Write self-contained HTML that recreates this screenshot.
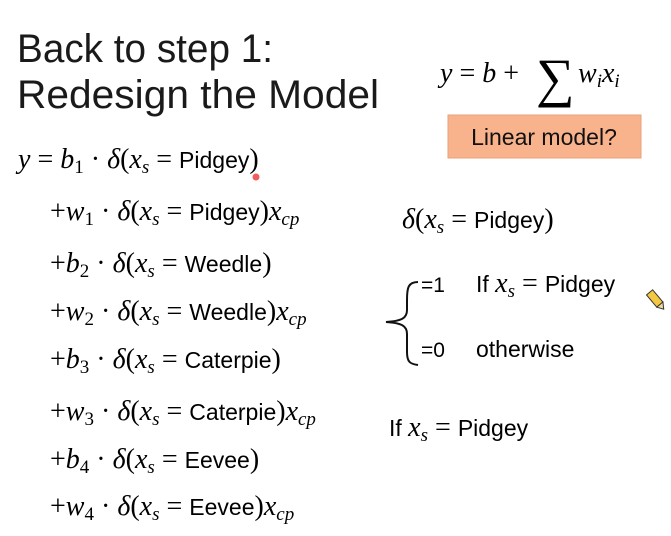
<!DOCTYPE html>
<html><head><meta charset="utf-8"><style>
html,body{margin:0;padding:0;background:#fff;}
svg{display:block}
.t{font-family:"Liberation Sans",sans-serif;font-size:40px;fill:#1a1a1a}
.m{font-family:"Liberation Serif",serif;font-style:italic;font-size:28px;fill:#000}
.r{font-family:"Liberation Serif",serif;font-style:normal}
.s{font-family:"Liberation Sans",sans-serif;font-style:normal;font-size:23px}
.sub{font-size:19px}
</style></head><body>
<svg width="671" height="536" viewBox="0 0 671 536" xmlns="http://www.w3.org/2000/svg">
<rect width="671" height="536" fill="#fff"/>
<text class="t" x="17" y="62" textLength="256" lengthAdjust="spacingAndGlyphs">Back to step 1:</text>
<text class="t" x="17" y="108" textLength="362" lengthAdjust="spacingAndGlyphs">Redesign the Model</text>

<text class="m" x="440" y="82">y <tspan class="r">= </tspan>b <tspan class="r">+</tspan></text>
<text x="536" y="96" style="font-family:'Liberation Serif',serif;font-size:54px">∑</text>
<text class="m" x="578" y="82">w<tspan class="sub" dy="5">i</tspan><tspan dy="-5">x</tspan><tspan class="sub" dy="5">i</tspan></text>

<rect x="448" y="115" width="193" height="43" fill="#f8b28c" stroke="#eaa27a" stroke-width="1"/>
<text x="544" y="145" text-anchor="middle" style="font-family:'Liberation Sans',sans-serif;font-size:23px;fill:#111">Linear model?</text>

<text class="m" x="18" y="168">y <tspan class="r">= </tspan>b<tspan class="sub r" dy="5">1</tspan><tspan class="r" dy="-5"> · </tspan>δ<tspan class="r">(</tspan>x<tspan class="sub" dy="5">s</tspan><tspan class="r" dy="-5"> = </tspan><tspan class="s">Pidgey</tspan><tspan class="r">)</tspan></text>
<circle cx="256" cy="177" r="3.5" fill="#e33" opacity="0.8"/>

<text class="m" x="50" y="220"><tspan class="r">+</tspan>w<tspan class="sub r" dy="5">1</tspan><tspan class="r" dy="-5"> · </tspan>δ<tspan class="r">(</tspan>x<tspan class="sub" dy="5">s</tspan><tspan class="r" dy="-5"> = </tspan><tspan class="s">Pidgey</tspan><tspan class="r">)</tspan>x<tspan class="sub" dy="5">cp</tspan></text>
<text class="m" x="50" y="272"><tspan class="r">+</tspan>b<tspan class="sub r" dy="5">2</tspan><tspan class="r" dy="-5"> · </tspan>δ<tspan class="r">(</tspan>x<tspan class="sub" dy="5">s</tspan><tspan class="r" dy="-5"> = </tspan><tspan class="s">Weedle</tspan><tspan class="r">)</tspan></text>
<text class="m" x="50" y="320"><tspan class="r">+</tspan>w<tspan class="sub r" dy="5">2</tspan><tspan class="r" dy="-5"> · </tspan>δ<tspan class="r">(</tspan>x<tspan class="sub" dy="5">s</tspan><tspan class="r" dy="-5"> = </tspan><tspan class="s">Weedle</tspan><tspan class="r">)</tspan>x<tspan class="sub" dy="5">cp</tspan></text>
<text class="m" x="50" y="368"><tspan class="r">+</tspan>b<tspan class="sub r" dy="5">3</tspan><tspan class="r" dy="-5"> · </tspan>δ<tspan class="r">(</tspan>x<tspan class="sub" dy="5">s</tspan><tspan class="r" dy="-5"> = </tspan><tspan class="s">Caterpie</tspan><tspan class="r">)</tspan></text>
<text class="m" x="50" y="420"><tspan class="r">+</tspan>w<tspan class="sub r" dy="5">3</tspan><tspan class="r" dy="-5"> · </tspan>δ<tspan class="r">(</tspan>x<tspan class="sub" dy="5">s</tspan><tspan class="r" dy="-5"> = </tspan><tspan class="s">Caterpie</tspan><tspan class="r">)</tspan>x<tspan class="sub" dy="5">cp</tspan></text>
<text class="m" x="50" y="468"><tspan class="r">+</tspan>b<tspan class="sub r" dy="5">4</tspan><tspan class="r" dy="-5"> · </tspan>δ<tspan class="r">(</tspan>x<tspan class="sub" dy="5">s</tspan><tspan class="r" dy="-5"> = </tspan><tspan class="s">Eevee</tspan><tspan class="r">)</tspan></text>
<text class="m" x="50" y="515"><tspan class="r">+</tspan>w<tspan class="sub r" dy="5">4</tspan><tspan class="r" dy="-5"> · </tspan>δ<tspan class="r">(</tspan>x<tspan class="sub" dy="5">s</tspan><tspan class="r" dy="-5"> = </tspan><tspan class="s">Eevee</tspan><tspan class="r">)</tspan>x<tspan class="sub" dy="5">cp</tspan></text>

<text class="m" x="402" y="228">δ<tspan class="r">(</tspan>x<tspan class="sub" dy="5">s</tspan><tspan class="r" dy="-5"> = </tspan><tspan class="s">Pidgey</tspan><tspan class="r">)</tspan></text>

<path d="M418,282 C408,282 407,288 407,300 L407,310 C407,318 402,321 386,322 C402,323 407,326 407,334 L407,352 C407,362 410,364 418,365" fill="none" stroke="#111" stroke-width="2"/>
<text class="s" x="421" y="292" style="font-size:21px">=1</text>
<text class="s" x="421" y="357" style="font-size:21px">=0</text>
<text class="m" x="476" y="292"><tspan class="s">If </tspan>x<tspan class="sub" dy="5">s</tspan><tspan class="r" dy="-5"> = </tspan><tspan class="s">Pidgey</tspan></text>
<text class="s" x="476" y="357">otherwise</text>

<text class="m" x="389" y="436"><tspan class="s">If </tspan>x<tspan class="sub" dy="5">s</tspan><tspan class="r" dy="-5"> = </tspan><tspan class="s">Pidgey</tspan></text>

<g transform="translate(656,300) rotate(-40)">
<rect x="-4" y="-10" width="8" height="16" fill="#f5c842" stroke="#333" stroke-width="1"/>
<path d="M-4,6 L0,12 L4,6 Z" fill="#f0d9a0" stroke="#333" stroke-width="1"/>
</g>
</svg>
</body></html>
